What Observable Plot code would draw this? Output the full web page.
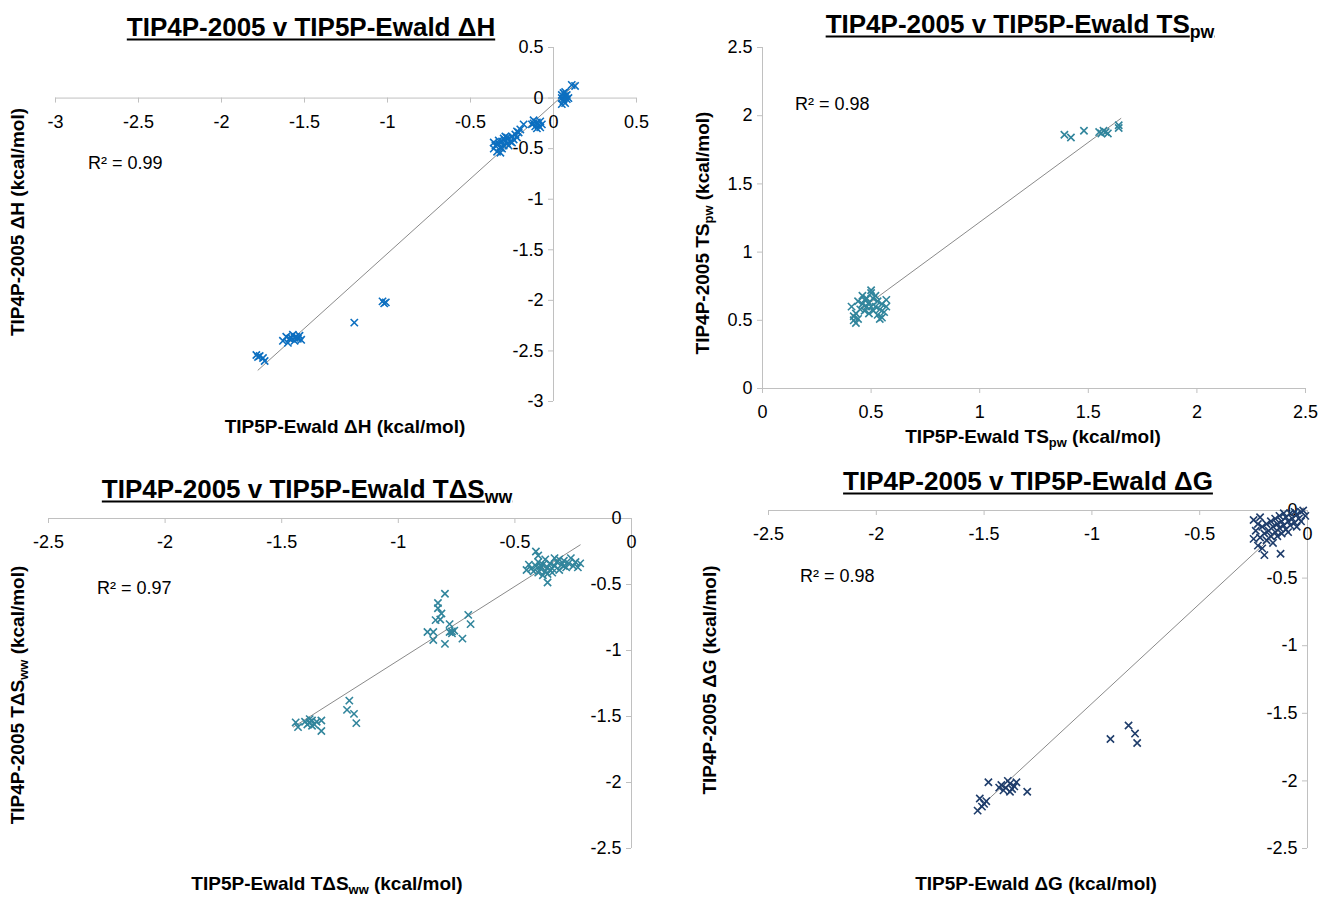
<!DOCTYPE html>
<html>
<head>
<meta charset="utf-8">
<script src="https://cdn.jsdelivr.net/npm/d3@7"></script>
<script src="https://cdn.jsdelivr.net/npm/@observablehq/plot@0.6"></script>
<style>
  html, body { margin: 0; padding: 0; background: #fff; }
  #page { position: relative; width: 1322px; height: 897px; font-family: "Liberation Sans", Arial, sans-serif; color: #000; overflow: hidden; }
  .abs { position: absolute; white-space: nowrap; transform: translate(-50%, -50%); }
  .title { font-weight: bold; font-size: 26px; text-decoration: underline; text-decoration-thickness: 2px; text-underline-offset: 3px; }
  .axt { font-weight: bold; font-size: 19px; }
  .rot { transform: translate(-50%, -50%) rotate(-90deg); }
  .r2 { font-size: 18px; transform: translate(0, -50%); }
  sub { font-size: 0.68em; vertical-align: -0.3em; line-height: 0; }
  .plot-holder { position: absolute; }
</style>
</head>
<body>
<div id="page"></div>
<script>
// ---------- DATA ----------
// Panel 1: ΔH  [TIP5P-Ewald, TIP4P-2005]
const dhPoints = [
  [0.06,0.05],[0.07,0.02],[0.05,0.0],[0.08,-0.01],[0.06,-0.03],[0.07,-0.05],[0.05,-0.06],[0.08,0.03],
  [0.07,0.06],[0.06,-0.01],[0.09,0.0],[0.05,0.03],[0.13,0.12],[0.11,0.13],
  [-0.12,-0.22],[-0.1,-0.24],[-0.08,-0.23],[-0.13,-0.26],[-0.09,-0.27],[-0.11,-0.28],[-0.07,-0.26],[-0.1,-0.3],[-0.12,-0.25],[-0.08,-0.29],
  [-0.36,-0.5],[-0.35,-0.47],[-0.34,-0.53],[-0.33,-0.45],[-0.32,-0.49],[-0.31,-0.43],[-0.3,-0.47],[-0.29,-0.42],
  [-0.28,-0.45],[-0.27,-0.4],[-0.26,-0.43],[-0.25,-0.38],[-0.24,-0.41],[-0.23,-0.36],[-0.22,-0.39],[-0.21,-0.34],
  [-0.2,-0.31],[-0.3,-0.4],[-0.33,-0.42],[-0.27,-0.47],[-0.25,-0.44],[-0.22,-0.33],[-0.34,-0.46],[-0.29,-0.38],
  [-0.31,-0.5],[-0.28,-0.39],[-0.36,-0.44],[-0.18,-0.26],[-0.32,-0.54],
  [-1.63,-2.4],[-1.61,-2.36],[-1.6,-2.42],[-1.58,-2.37],[-1.57,-2.34],[-1.56,-2.4],[-1.55,-2.36],[-1.54,-2.38],
  [-1.53,-2.35],[-1.52,-2.39],[-1.59,-2.38],[-1.56,-2.37],
  [-1.79,-2.54],[-1.77,-2.55],[-1.75,-2.57],[-1.74,-2.6],[-1.78,-2.56],
  [-1.2,-2.22],
  [-1.03,-2.01],[-1.02,-2.03],[-1.01,-2.02]
];
const dhTrend = [[-1.78,-2.69],[0.14,0.15]];
const dhXTicks = [-3,-2.5,-2,-1.5,-1,-0.5,0,0.5];
const dhYTicks = [0.5,0,-0.5,-1,-1.5,-2,-2.5,-3];

// Panel 2: TS_pw
const tsPoints = [
  [0.42,0.5],[0.43,0.48],[0.44,0.51],[0.42,0.53],[0.41,0.6],[0.45,0.58],[0.46,0.62],[0.47,0.65],
  [0.48,0.6],[0.49,0.63],[0.5,0.7],[0.5,0.72],[0.51,0.66],[0.52,0.6],[0.53,0.64],[0.54,0.58],
  [0.55,0.62],[0.56,0.56],[0.57,0.6],[0.55,0.52],[0.53,0.54],[0.51,0.57],[0.49,0.55],[0.47,0.57],
  [0.46,0.68],[0.48,0.66],[0.52,0.68],[0.5,0.6],[0.57,0.65],[0.54,0.51],[0.44,0.64],[0.43,0.55],
  [1.39,1.86],[1.42,1.84],[1.48,1.89],[1.55,1.88],[1.56,1.87],[1.57,1.89],[1.58,1.88],[1.59,1.87],
  [1.64,1.91],[1.64,1.93]
];
const tsTrend = [[0.41,0.53],[1.65,1.98]];
const tsXTicks = [0,0.5,1,1.5,2,2.5];
const tsYTicks = [0,0.5,1,1.5,2,2.5];

// Panel 3: TΔS_ww
const twPoints = [
  [-0.41,-0.25],[-0.4,-0.28],[-0.44,-0.35],[-0.43,-0.38],[-0.42,-0.4],[-0.41,-0.36],[-0.4,-0.33],[-0.39,-0.38],
  [-0.38,-0.35],[-0.37,-0.4],[-0.36,-0.37],[-0.35,-0.34],[-0.34,-0.38],[-0.33,-0.36],[-0.32,-0.33],[-0.31,-0.39],
  [-0.3,-0.35],[-0.29,-0.32],[-0.28,-0.37],[-0.27,-0.34],[-0.26,-0.3],[-0.25,-0.36],[-0.24,-0.33],[-0.23,-0.37],
  [-0.36,-0.42],[-0.38,-0.43],[-0.34,-0.41],[-0.45,-0.39],[-0.37,-0.31],[-0.33,-0.3],[-0.36,-0.485],[-0.39,-0.36],
  [-0.35,-0.39],[-0.4,-0.41],[-0.31,-0.31],[-0.29,-0.36],[-0.22,-0.34],
  [-0.8,-0.57],[-0.83,-0.64],[-0.83,-0.68],[-0.815,-0.72],[-0.82,-0.765],[-0.84,-0.77],[-0.7,-0.73],[-0.69,-0.8],
  [-0.78,-0.8],[-0.77,-0.855],[-0.76,-0.85],[-0.78,-0.86],[-0.77,-0.87],[-0.875,-0.86],[-0.85,-0.86],[-0.85,-0.92],
  [-0.8,-0.95],[-0.725,-0.91],
  [-1.38,-1.545],[-1.37,-1.53],[-1.39,-1.56],[-1.36,-1.56],[-1.38,-1.52],[-1.37,-1.57],[-1.4,-1.54],[-1.35,-1.54],
  [-1.44,-1.545],[-1.43,-1.58],[-1.33,-1.53],[-1.33,-1.61],
  [-1.21,-1.38],[-1.22,-1.45],[-1.19,-1.48],[-1.18,-1.55]
];
const twTrend = [[-1.45,-1.58],[-0.22,-0.2]];
const twXTicks = [-2.5,-2,-1.5,-1,-0.5,0];
const twYTicks = [0,-0.5,-1,-1.5,-2,-2.5];

// Panel 4: ΔG
const dgPoints = [
  [-0.25,-0.07],[-0.22,-0.05],[-0.25,-0.21],[-0.24,-0.15],[-0.23,-0.26],[-0.22,-0.2],[-0.21,-0.12],[-0.2,-0.33],
  [-0.2,-0.17],[-0.19,-0.22],[-0.19,-0.1],[-0.18,-0.15],[-0.17,-0.19],[-0.17,-0.08],[-0.16,-0.12],[-0.15,-0.16],
  [-0.15,-0.06],[-0.14,-0.1],[-0.13,-0.13],[-0.13,-0.04],[-0.125,-0.32],[-0.12,-0.08],[-0.11,-0.11],[-0.1,-0.05],
  [-0.1,-0.14],[-0.09,-0.08],[-0.08,-0.02],[-0.08,-0.11],[-0.07,-0.06],[-0.06,-0.09],[-0.05,-0.03],[-0.05,-0.12],
  [-0.04,-0.06],[-0.03,-0.01],[-0.02,0.0],[-0.01,-0.04],[-0.03,-0.08],[-0.06,-0.01],[-0.11,-0.02],[-0.14,-0.19],
  [-0.23,-0.1],[-0.21,-0.28],[-0.16,-0.24],[-0.12,-0.17],[-0.09,-0.16],
  [-1.48,-2.01],[-1.42,-2.03],[-1.4,-2.05],[-1.38,-2.02],[-1.36,-2.04],[-1.41,-2.07],[-1.39,-2.0],[-1.37,-2.06],
  [-1.35,-2.01],[-1.43,-2.05],[-1.38,-2.08],[-1.3,-2.08],[-1.52,-2.13],[-1.5,-2.17],[-1.49,-2.15],[-1.53,-2.22],[-1.51,-2.19],
  [-0.914,-1.69],[-0.83,-1.59],[-0.8,-1.65],[-0.79,-1.72]
];
const dgTrend = [[-1.53,-2.21],[-0.02,0.02]];
const dgXTicks = [-2.5,-2,-1.5,-1,-0.5,0];
const dgYTicks = [0,-0.5,-1,-1.5,-2,-2.5];

const r2Labels = ["R² = 0.99","R² = 0.98","R² = 0.97","R² = 0.98"];
const colors = ["#0C6FC0","#31859C","#31859C","#1F3D6B"];

// ---------- DRAW ----------
const page = document.getElementById("page");
const AXIS = "#c0c0c0";
const fmt = d => String(d);

function panel(cfg) {
  const pts = cfg.points.map(([x, y]) => ({x, y}));
  const tr = cfg.trend.map(([x, y]) => ({x, y}));
  const [x0, x1] = [d3.min(cfg.xTicks), d3.max(cfg.xTicks)];
  const [y0, y1] = [d3.min(cfg.yTicks), d3.max(cfg.yTicks)];
  const xs = (cfg.right - cfg.left - cfg.ml - cfg.mr) / (x1 - x0);
  const ys = (cfg.bottom - cfg.top - cfg.mt - cfg.mb) / (y1 - y0);
  const tickPx = 5;
  const svg = Plot.plot({
    width: cfg.right - cfg.left,
    height: cfg.bottom - cfg.top,
    marginLeft: cfg.ml, marginRight: cfg.mr, marginTop: cfg.mt, marginBottom: cfg.mb,
    x: {domain: [x0, x1], axis: null},
    y: {domain: [y0, y1], axis: null},
    style: {background: "transparent", overflow: "visible", fontFamily: "Liberation Sans, Arial, sans-serif"},
    marks: [
      Plot.ruleY([0], {x1: x0, x2: x1, stroke: AXIS, strokeWidth: 1}),
      Plot.ruleX([0], {y1: y0, y2: y1, stroke: AXIS, strokeWidth: 1}),
      Plot.ruleX(cfg.xTicks, {x: d => d, y1: 0, y2: -tickPx / ys, stroke: AXIS}),
      Plot.ruleY(cfg.yTicks, {y: d => d, x1: 0, x2: -tickPx / xs, stroke: AXIS}),
      Plot.text(cfg.xTicks, {x: d => d, y: 0, text: fmt, dy: 24, fontSize: 18, fill: "#000"}),
      Plot.text(cfg.yTicks, {x: 0, y: d => d, text: fmt, dx: -10, textAnchor: "end", fontSize: 18, fill: "#000"}),
      Plot.line(tr, {x: "x", y: "y", stroke: "#8a8a8a", strokeWidth: 1}),
      Plot.dot(pts, {x: "x", y: "y", symbol: "times", r: 3.4, stroke: cfg.color, strokeWidth: 1.6})
    ]
  });
  const holder = document.createElement("div");
  holder.className = "plot-holder";
  holder.style.left = cfg.left + "px";
  holder.style.top = cfg.top + "px";
  holder.appendChild(svg);
  page.appendChild(holder);
}

panel({points: dhPoints, trend: dhTrend, xTicks: dhXTicks, yTicks: dhYTicks, color: colors[0],
  left: 0, top: 0, right: 661, bottom: 450, ml: 55, mr: 25, mt: 47, mb: 49});
panel({points: tsPoints, trend: tsTrend, xTicks: tsXTicks, yTicks: tsYTicks, color: colors[1],
  left: 661, top: 0, right: 1322, bottom: 450, ml: 101, mr: 17, mt: 47, mb: 62});
panel({points: twPoints, trend: twTrend, xTicks: twXTicks, yTicks: twYTicks, color: colors[2],
  left: 0, top: 450, right: 661, bottom: 897, ml: 48, mr: 30, mt: 68, mb: 49});
panel({points: dgPoints, trend: dgTrend, xTicks: dgXTicks, yTicks: dgYTicks, color: colors[3],
  left: 661, top: 450, right: 1322, bottom: 897, ml: 107, mr: 15, mt: 60, mb: 49});

function label(html, cls, x, y) {
  const d = document.createElement("div");
  d.className = "abs " + cls;
  d.style.left = x + "px";
  d.style.top = y + "px";
  d.innerHTML = html;
  page.appendChild(d);
}
// titles
label("TIP4P-2005 v TIP5P-Ewald ΔH", "title", 311, 27);
label("TIP4P-2005 v TIP5P-Ewald TS<sub>pw</sub>", "title", 1020, 24);
label("TIP4P-2005 v TIP5P-Ewald TΔS<sub>ww</sub>", "title", 307, 489);
label("TIP4P-2005 v TIP5P-Ewald ΔG", "title", 1028, 481);
// axis titles
label("TIP5P-Ewald ΔH (kcal/mol)", "axt", 345, 427);
label("TIP4P-2005 ΔH (kcal/mol)", "axt rot", 18, 222);
label("TIP5P-Ewald TS<sub>pw</sub> (kcal/mol)", "axt", 1033, 437);
label("TIP4P-2005 TS<sub>pw</sub> (kcal/mol)", "axt rot", 703, 233);
label("TIP5P-Ewald TΔS<sub>ww</sub> (kcal/mol)", "axt", 327, 884);
label("TIP4P-2005 TΔS<sub>ww</sub> (kcal/mol)", "axt rot", 18, 695);
label("TIP5P-Ewald ΔG (kcal/mol)", "axt", 1036, 884);
label("TIP4P-2005 ΔG (kcal/mol)", "axt rot", 710, 680);
// R² annotations
label(r2Labels[0], "r2", 88, 163);
label(r2Labels[1], "r2", 795, 104);
label(r2Labels[2], "r2", 97, 588);
label(r2Labels[3], "r2", 800, 576);
</script>
</body>
</html>
